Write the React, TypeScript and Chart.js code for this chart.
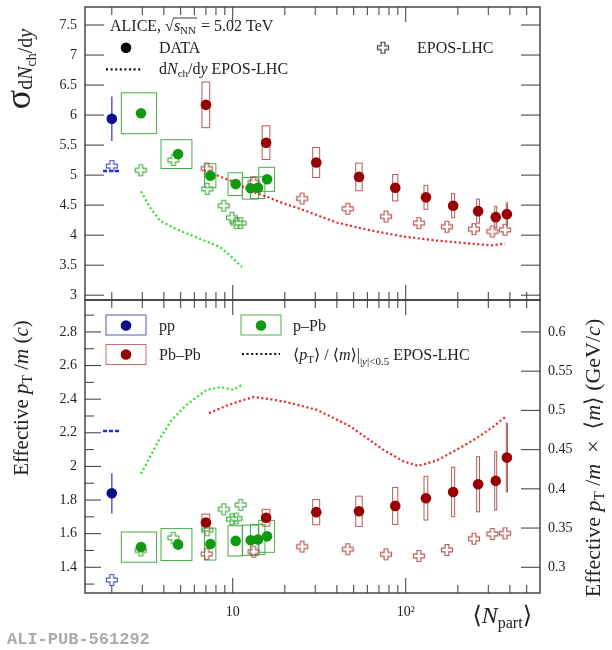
import { useEffect, useRef } from "react";
import { Chart, registerables } from "chart.js";

Chart.register(...registerables);

// <Npart> of the measured points
const ppNpart = [2];
const pPbNpart = [2.95, 4.83, 7.43, 10.4, 12.7, 14.0, 15.8];
const pPbNpartErr = [0.68, 0.98, 0.56, 1.0, 1.35, 1.35, 1.65];
const pbpbNpart = [7.0, 15.6, 30.4, 53.7, 87.0, 130.8, 187.9, 262.0, 331.2, 384.3];
const pbpbNpartErr = [0.36, 0.8, 1.4, 2.3, 3.0, 3.3, 3.8, 5.0, 4.4, 3.0];

// top panel: sigma of dNch/dy
const ppSigma = [5.94];
const ppSigmaErr = [0.37];
const pPbSigma = [6.03, 5.35, 4.99, 4.85, 4.78, 4.79, 4.93];
const pPbSigmaSys = [0.34, 0.24, 0.2, 0.19, 0.18, 0.18, 0.2];
const pbpbSigma = [6.17, 5.54, 5.21, 4.97, 4.79, 4.63, 4.49, 4.4, 4.3, 4.35];
const pbpbSigmaSys = [0.38, 0.28, 0.25, 0.23, 0.22, 0.2, 0.2, 0.2, 0.18, 0.19];

// bottom panel: effective pT/m
const ppPt = [1.84];
const ppPtErr = [0.12];
const pPbPt = [1.52, 1.535, 1.538, 1.557, 1.561, 1.565, 1.584];
const pPbPtSys = [0.09, 0.095, 0.095, 0.09, 0.09, 0.09, 0.095];
const pbpbPt = [1.666, 1.695, 1.728, 1.733, 1.765, 1.811, 1.848, 1.894, 1.914, 2.053];
const pbpbPtSys = [0.05, 0.05, 0.075, 0.09, 0.11, 0.13, 0.147, 0.164, 0.174, 0.205];

// EPOS-LHC points (open crosses)
const ppEposSigma = [5.15];
const ppEposPt = [1.324];
const pPbEposNpart = [2.94, 4.54, 7.13, 8.87, 9.9, 10.5, 11.1];
const pPbEposSigma = [5.08, 5.25, 4.77, 4.49, 4.29, 4.2, 4.2];
const pPbEposPt = [1.5, 1.575, 1.62, 1.745, 1.686, 1.69, 1.771];
const pbpbEposNpart = [7.07, 13.2, 25.2, 46.2, 76.9, 119, 173, 248, 317, 375];
const pbpbEposSigma = [5.11, 4.88, 4.61, 4.44, 4.31, 4.2, 4.14, 4.1, 4.06, 4.09];
const pbpbEposPt = [1.479, 1.493, 1.523, 1.507, 1.477, 1.467, 1.503, 1.57, 1.598, 1.602];

// EPOS-LHC curves
const ppCurveNpart = [1.78, 2.25];
const ppDndyCurve = [5.07, 5.07];
const ppMeanPtCurve = [2.21, 2.21];
const pPbDndyNpart = [2.95, 3.33, 3.8, 4.64, 6.47, 8.45, 9.65, 11.3];
const pPbDndyCurve = [4.73, 4.46, 4.24, 4.11, 3.94, 3.8, 3.66, 3.47];
const pbpbDndyNpart = [6.82, 9.87, 13.4, 16.4, 19.6, 25.6, 39.9, 62.2, 95.8, 151, 235, 314, 375];
const pbpbDndyCurve = [5.08, 4.9, 4.71, 4.62, 4.53, 4.42, 4.21, 4.08, 3.98, 3.91, 3.86, 3.83, 3.86];
const pPbMeanPtNpart = [2.95, 3.33, 3.8, 4.44, 5.42, 7.07, 8.45, 9.65, 10.1, 11.3];
const pPbMeanPtCurve = [1.956, 2.059, 2.168, 2.277, 2.367, 2.456, 2.472, 2.46, 2.456, 2.486];
const pbpbMeanPtNpart = [7.3, 9.0, 10.8, 13.2, 16.4, 20.0, 30.6, 47.5, 74, 97, 118, 151, 197, 257, 321, 375];
const pbpbMeanPtCurve = [2.317, 2.357, 2.386, 2.413, 2.4, 2.385, 2.337, 2.24, 2.1, 2.03, 2.003, 2.035, 2.099, 2.168, 2.237, 2.293];

// axes
const xMajorTicks = [10, 100];
const xMinorTicks = [2, 3, 4, 5, 6, 7, 8, 9, 20, 30, 40, 50, 60, 70, 80, 90, 200, 300, 400, 500];
const topTicks = [3, 3.5, 4, 4.5, 5, 5.5, 6, 6.5, 7, 7.5];
const bottomTicks = [1.4, 1.6, 1.8, 2, 2.2, 2.4, 2.6, 2.8];
const bottomMinorTicks = [1.3, 1.5, 1.7, 1.9, 2.1, 2.3, 2.5, 2.7, 2.9];
const rightTicks = [0.3, 0.35, 0.4, 0.45, 0.5, 0.55, 0.6];
const massScale = 3 / 14; // right axis = left axis x <m>

const SERIF = "'Liberation Serif', 'DejaVu Serif', serif";
const INK = "#222";
const FRAME = "#3a3a3a";
const NAVY = "#0c0c8c";
const PP_ERR = "#6464c4";
const PP_CROSS = "#5050c4";
const PP_LINE = "#2424ee";
const GREEN = "#119911";
const GREEN_BOX = "#4aaa4a";
const GREEN_CROSS = "#4caf4c";
const GREEN_LINE = "#2ede2e";
const RED = "#990000";
const RED_BOX = "#b85858";
const RED_CROSS = "#b85a5a";
const RED_LINE = "#ee2020";
const DOTS = [2, 2.6];
const LEG = 16;

type Seg = { t: string; s?: number; i?: boolean; dy?: number };

function rich(ctx: CanvasRenderingContext2D, segs: Seg[], x: number, y: number, size: number, align = "left") {
  const fontOf = (g: Seg) => `${g.i ? "italic " : ""}${g.s ?? size}px ${SERIF}`;
  let w = 0;
  for (const g of segs) {
    ctx.font = fontOf(g);
    w += ctx.measureText(g.t).width;
  }
  let cx = align === "center" ? x - w / 2 : align === "right" ? x - w : x;
  ctx.textAlign = "left";
  ctx.textBaseline = "alphabetic";
  for (const g of segs) {
    ctx.font = fontOf(g);
    ctx.fillText(g.t, cx, y + (g.dy ?? 0));
    cx += ctx.measureText(g.t).width;
  }
  return w;
}

const xy = (xs: number[], ys: number[]) => xs.map((x, i) => ({ x, y: ys[i] }));

function crossImage(color: string) {
  const c = document.createElement("canvas");
  c.width = 14;
  c.height = 14;
  const g = c.getContext("2d")!;
  const m = 7, h = 5.5, a = 1.9;
  g.beginPath();
  g.moveTo(m - a, m - h);
  g.lineTo(m + a, m - h);
  g.lineTo(m + a, m - a);
  g.lineTo(m + h, m - a);
  g.lineTo(m + h, m + a);
  g.lineTo(m + a, m + a);
  g.lineTo(m + a, m + h);
  g.lineTo(m - a, m + h);
  g.lineTo(m - a, m + a);
  g.lineTo(m - h, m + a);
  g.lineTo(m - h, m - a);
  g.lineTo(m - a, m - a);
  g.closePath();
  g.strokeStyle = color;
  g.lineWidth = 1.2;
  g.stroke();
  return c;
}

function drawBoxes(chart: any, npart: number[], npartErr: number[], vals: number[], errs: number[], color: string) {
  const ctx: CanvasRenderingContext2D = chart.ctx;
  const xs = chart.scales.x;
  const ys = chart.scales.y;
  ctx.save();
  ctx.strokeStyle = color;
  ctx.lineWidth = 1;
  vals.forEach((v, i) => {
    const x0 = xs.getPixelForValue(npart[i] - npartErr[i]);
    const x1 = xs.getPixelForValue(npart[i] + npartErr[i]);
    const y0 = ys.getPixelForValue(v + errs[i]);
    const y1 = ys.getPixelForValue(v - errs[i]);
    ctx.strokeRect(x0, y0, Math.max(x1 - x0, 1), y1 - y0);
  });
  ctx.restore();
}

function drawBars(chart: any, npart: number[], vals: number[], errs: number[], color: string) {
  const ctx: CanvasRenderingContext2D = chart.ctx;
  const xs = chart.scales.x;
  const ys = chart.scales.y;
  ctx.save();
  ctx.strokeStyle = color;
  ctx.lineWidth = 1.6;
  ctx.beginPath();
  vals.forEach((v, i) => {
    const px = xs.getPixelForValue(npart[i]);
    ctx.moveTo(px, ys.getPixelForValue(v + errs[i]));
    ctx.lineTo(px, ys.getPixelForValue(v - errs[i]));
  });
  ctx.stroke();
  ctx.restore();
}

type YMarks = { id: string; major: number[]; minor: number[]; majorLen: number; minorLen: number; left: boolean; right: boolean };

function panelFrame(chart: any, marks: YMarks[]) {
  const ctx: CanvasRenderingContext2D = chart.ctx;
  const { left, right, top, bottom } = chart.chartArea;
  const xs = chart.scales.x;
  ctx.save();
  ctx.strokeStyle = FRAME;
  ctx.lineWidth = 1;
  ctx.beginPath();
  const vtick = (v: number, len: number) => {
    const px = xs.getPixelForValue(v);
    ctx.moveTo(px, bottom);
    ctx.lineTo(px, bottom - len);
    ctx.moveTo(px, top);
    ctx.lineTo(px, top + len);
  };
  xMajorTicks.forEach((v) => vtick(v, 15));
  xMinorTicks.forEach((v) => vtick(v, 8));
  for (const m of marks) {
    const s = chart.scales[m.id];
    const htick = (v: number, len: number) => {
      const py = s.getPixelForValue(v);
      if (m.left) {
        ctx.moveTo(left, py);
        ctx.lineTo(left + len, py);
      }
      if (m.right) {
        ctx.moveTo(right, py);
        ctx.lineTo(right - len, py);
      }
    };
    m.major.forEach((v) => htick(v, m.majorLen));
    m.minor.forEach((v) => htick(v, m.minorLen));
  }
  ctx.stroke();
  ctx.lineWidth = 1.4;
  ctx.strokeRect(left, top, right - left, bottom - top);
  ctx.restore();
}

function dottedLegend(ctx: CanvasRenderingContext2D, x0: number, x1: number, y: number) {
  ctx.save();
  ctx.strokeStyle = "#111";
  ctx.lineWidth = 2.2;
  ctx.setLineDash(DOTS);
  ctx.beginPath();
  ctx.moveTo(x0, y);
  ctx.lineTo(x1, y);
  ctx.stroke();
  ctx.restore();
}

function dot(ctx: CanvasRenderingContext2D, x: number, y: number, color: string) {
  ctx.fillStyle = color;
  ctx.beginPath();
  ctx.arc(x, y, 5.3, 0, Math.PI * 2);
  ctx.fill();
}

const fmt = (v: number) => String(Number(Number(v).toFixed(2)));
const tickFont = { family: SERIF, size: 14 };

function markerSet(label: string, data: { x: number; y: number }[], color: string) {
  return { label, data, pointStyle: "circle", pointRadius: 5.3, backgroundColor: color, borderWidth: 0, showLine: false };
}
function crossSet(label: string, data: { x: number; y: number }[], img: HTMLCanvasElement) {
  return { label, data, pointStyle: img, pointRadius: 6, showLine: false };
}
function curveSet(label: string, data: { x: number; y: number }[], color: string, dash: number[], width = 2.2) {
  return { label, data, showLine: true, borderColor: color, borderWidth: width, borderDash: dash, pointRadius: 0, fill: false, tension: 0 };
}

const App = () => {
  const topRef = useRef<HTMLCanvasElement | null>(null);
  const bottomRef = useRef<HTMLCanvasElement | null>(null);

  useEffect(() => {
    document.body.style.margin = "0";
    if (!topRef.current || !bottomRef.current) return;

    const ppCross = crossImage(PP_CROSS);
    const pPbCross = crossImage(GREEN_CROSS);
    const pbpbCross = crossImage(RED_CROSS);
    const blackCross = crossImage("#444");

    const xScale = (display: boolean) => ({
      type: "logarithmic",
      min: 1.4,
      max: 597,
      display,
      position: "bottom",
      grid: { display: false, drawTicks: false },
      border: { display: false },
      ticks: {
        font: tickFont,
        color: INK,
        padding: 11,
        autoSkip: false,
        maxRotation: 0,
        callback: (v: any) => (Number(v) === 10 ? "10" : "10²"),
      },
      afterBuildTicks: (s: any) => {
        s.ticks = xMajorTicks.map((value) => ({ value }));
      },
      afterFit: (s: any) => {
        s.height = display ? 57 : 0;
        s.paddingLeft = 0;
        s.paddingRight = 0;
      },
    });

    const yScale = (min: number, max: number, ticks: number[], position: string, width: number) => ({
      type: "linear",
      min,
      max,
      position,
      grid: { display: false, drawTicks: false },
      border: { display: false },
      ticks: { font: tickFont, color: INK, padding: 8, autoSkip: false, callback: (v: any) => fmt(v) },
      afterBuildTicks: (s: any) => {
        s.ticks = ticks.map((value) => ({ value }));
      },
      afterFit: (s: any) => {
        s.width = width;
        s.paddingTop = 0;
        s.paddingBottom = 0;
      },
    });

    const topPlugin = {
      id: "topDecor",
      beforeDatasetsDraw(chart: any) {
        drawBoxes(chart, pPbNpart, pPbNpartErr, pPbSigma, pPbSigmaSys, GREEN_BOX);
        drawBoxes(chart, pbpbNpart, pbpbNpartErr, pbpbSigma, pbpbSigmaSys, RED_BOX);
        drawBars(chart, ppNpart, ppSigma, ppSigmaErr, PP_ERR);
      },
      afterDraw(chart: any) {
        const ctx: CanvasRenderingContext2D = chart.ctx;
        panelFrame(chart, [{ id: "y", major: topTicks, minor: [], majorLen: 19, minorLen: 0, left: true, right: true }]);
        ctx.save();
        ctx.fillStyle = INK;
        ctx.strokeStyle = INK;
        // ALICE, sqrt(sNN) = 5.02 TeV
        let x = 110;
        const yb = 31;
        x += rich(ctx, [{ t: "ALICE, " }], x, yb, LEG);
        x += rich(ctx, [{ t: "√" }], x, yb, LEG);
        const sx = x;
        x += rich(ctx, [{ t: "s", i: true }, { t: "NN", s: 11, dy: 3 }], x, yb, LEG);
        ctx.lineWidth = 0.9;
        ctx.beginPath();
        ctx.moveTo(sx - 1, yb - 13);
        ctx.lineTo(x + 1, yb - 13);
        ctx.stroke();
        rich(ctx, [{ t: " = 5.02 TeV" }], x + 1, yb, LEG);
        // DATA / EPOS legend
        dot(ctx, 126, 47.7, "#000");
        ctx.fillStyle = INK;
        rich(ctx, [{ t: "DATA" }], 159, 53, LEG);
        dottedLegend(ctx, 106, 142, 69.3);
        rich(ctx, [{ t: "d" }, { t: "N", i: true }, { t: "ch", s: 11, dy: 3 }, { t: "/d" }, { t: "y", i: true }, { t: " EPOS-LHC" }], 159, 74, LEG);
        ctx.drawImage(blackCross, 383 - 7, 47.7 - 7);
        rich(ctx, [{ t: "EPOS-LHC" }], 417, 53, LEG);
        // y title
        ctx.translate(30, 69);
        ctx.rotate(-Math.PI / 2);
        rich(ctx, [{ t: "σ", s: 36 }, { t: "d", s: 20, dy: 2 }, { t: "N", i: true, s: 20, dy: 2 }, { t: "ch", s: 14, dy: 6 }, { t: "/d", s: 20, dy: 2 }, { t: "y", i: true, s: 20, dy: 2 }], 0, 0, 20, "center");
        ctx.restore();
      },
    };

    const bottomPlugin = {
      id: "bottomDecor",
      beforeDatasetsDraw(chart: any) {
        drawBoxes(chart, pPbNpart, pPbNpartErr, pPbPt, pPbPtSys, GREEN_BOX);
        drawBoxes(chart, pbpbNpart, pbpbNpartErr, pbpbPt, pbpbPtSys, RED_BOX);
        drawBars(chart, ppNpart, ppPt, ppPtErr, PP_ERR);
      },
      afterDraw(chart: any) {
        const ctx: CanvasRenderingContext2D = chart.ctx;
        panelFrame(chart, [
          { id: "y", major: bottomTicks, minor: bottomMinorTicks, majorLen: 16, minorLen: 9, left: true, right: false },
          { id: "y2", major: rightTicks, minor: [], majorLen: 19, minorLen: 0, left: false, right: true },
        ]);
        ctx.save();
        // legend boxes
        ctx.lineWidth = 1;
        ctx.strokeStyle = "#5a5ab8";
        ctx.strokeRect(106, 315, 40, 20);
        dot(ctx, 126, 325.5, NAVY);
        ctx.strokeStyle = "#c07070";
        ctx.strokeRect(106, 344.5, 40, 20);
        dot(ctx, 126, 354.5, RED);
        ctx.strokeStyle = "#55b055";
        ctx.strokeRect(241, 315, 40, 20);
        dot(ctx, 261, 325.5, GREEN);
        dottedLegend(ctx, 242, 280, 354);
        ctx.fillStyle = INK;
        rich(ctx, [{ t: "pp" }], 159, 331, LEG);
        rich(ctx, [{ t: "Pb–Pb" }], 159, 360, LEG);
        rich(ctx, [{ t: "p–Pb" }], 293, 331, LEG);
        rich(
          ctx,
          [
            { t: "⟨" },
            { t: "p", i: true },
            { t: "T", s: 11, dy: 3 },
            { t: "⟩ / ⟨" },
            { t: "m", i: true },
            { t: "⟩|" },
            { t: "|", s: 11, dy: 5 },
            { t: "y", i: true, s: 11, dy: 5 },
            { t: "|<0.5", s: 11, dy: 5 },
            { t: " EPOS-LHC" },
          ],
          293,
          360,
          LEG
        );
        // x title
        rich(ctx, [{ t: "⟨" }, { t: "N", i: true }, { t: "part", s: 16, dy: 5 }, { t: "⟩" }], 532, 623, 24, "right");
        // ALICE figure id
        ctx.font = `bold 17px 'Liberation Mono', 'DejaVu Sans Mono', monospace`;
        ctx.fillStyle = "#aaaaaa";
        ctx.textAlign = "left";
        ctx.fillText("ALI-PUB-561292", 7, 644);
        ctx.fillStyle = INK;
        // left title
        ctx.save();
        ctx.translate(28, 398);
        ctx.rotate(-Math.PI / 2);
        rich(ctx, [{ t: "Effective " }, { t: "p", i: true }, { t: "T", s: 14, dy: 4 }, { t: " /" }, { t: "m", i: true }, { t: " (" }, { t: "c", i: true }, { t: ")" }], 0, 0, 21, "center");
        ctx.restore();
        // right title
        ctx.translate(600, 458);
        ctx.rotate(-Math.PI / 2);
        rich(
          ctx,
          [
            { t: "Effective " },
            { t: "p", i: true },
            { t: "T", s: 15, dy: 4 },
            { t: " /" },
            { t: "m", i: true },
            { t: "  ×  ⟨" },
            { t: "m", i: true },
            { t: "⟩ (GeV/" },
            { t: "c", i: true },
            { t: ")" },
          ],
          0,
          0,
          22,
          "center"
        );
        ctx.restore();
      },
    };

    const common = {
      responsive: false,
      animation: false,
      events: [],
      plugins: { legend: { display: false }, tooltip: { enabled: false } },
    };

    const topChart = new Chart(topRef.current, {
      type: "scatter",
      data: {
        datasets: [
          markerSet("pp", xy(ppNpart, ppSigma), NAVY),
          markerSet("p–Pb", xy(pPbNpart, pPbSigma), GREEN),
          markerSet("Pb–Pb", xy(pbpbNpart, pbpbSigma), RED),
          crossSet("pp EPOS-LHC", xy(ppNpart, ppEposSigma), ppCross),
          crossSet("p–Pb EPOS-LHC", xy(pPbEposNpart, pPbEposSigma), pPbCross),
          crossSet("Pb–Pb EPOS-LHC", xy(pbpbEposNpart, pbpbEposSigma), pbpbCross),
          curveSet("pp dNch/dy EPOS-LHC", xy(ppCurveNpart, ppDndyCurve), PP_LINE, [4, 2], 2.5),
          curveSet("p–Pb dNch/dy EPOS-LHC", xy(pPbDndyNpart, pPbDndyCurve), GREEN_LINE, DOTS),
          curveSet("Pb–Pb dNch/dy EPOS-LHC", xy(pbpbDndyNpart, pbpbDndyCurve), RED_LINE, DOTS),
        ],
      } as any,
      options: {
        ...common,
        layout: { padding: { left: 0, right: 72, top: 5, bottom: 350 } },
        scales: {
          x: xScale(false),
          y: yScale(2.92, 7.8, topTicks, "left", 85),
        },
      } as any,
      plugins: [topPlugin],
    });

    const bottomChart = new Chart(bottomRef.current, {
      type: "scatter",
      data: {
        datasets: [
          markerSet("pp", xy(ppNpart, ppPt), NAVY),
          markerSet("p–Pb", xy(pPbNpart, pPbPt), GREEN),
          markerSet("Pb–Pb", xy(pbpbNpart, pbpbPt), RED),
          crossSet("pp EPOS-LHC", xy(ppNpart, ppEposPt), ppCross),
          crossSet("p–Pb EPOS-LHC", xy(pPbEposNpart, pPbEposPt), pPbCross),
          crossSet("Pb–Pb EPOS-LHC", xy(pbpbEposNpart, pbpbEposPt), pbpbCross),
          curveSet("pp <pT>/<m> EPOS-LHC", xy(ppCurveNpart, ppMeanPtCurve), PP_LINE, [4, 2], 2.5),
          curveSet("p–Pb <pT>/<m> EPOS-LHC", xy(pPbMeanPtNpart, pPbMeanPtCurve), GREEN_LINE, DOTS),
          curveSet("Pb–Pb <pT>/<m> EPOS-LHC", xy(pbpbMeanPtNpart, pbpbMeanPtCurve), RED_LINE, DOTS),
        ],
      } as any,
      options: {
        ...common,
        layout: { padding: { left: 0, right: 0, top: 300, bottom: 0 } },
        scales: {
          x: xScale(true),
          y: yScale(1.247, 2.99, bottomTicks, "left", 85),
          y2: yScale(1.247 * massScale, 2.99 * massScale, rightTicks, "right", 72),
        },
      } as any,
      plugins: [bottomPlugin],
    });

    return () => {
      topChart.destroy();
      bottomChart.destroy();
    };
  }, []);

  return (
    <div style={{ position: "relative", width: 612, height: 650, background: "#fff" }}>
      <canvas ref={topRef} width={612} height={650} style={{ position: "absolute", left: 0, top: 0 }} />
      <canvas ref={bottomRef} width={612} height={650} style={{ position: "absolute", left: 0, top: 0 }} />
    </div>
  );
};

export default App;
